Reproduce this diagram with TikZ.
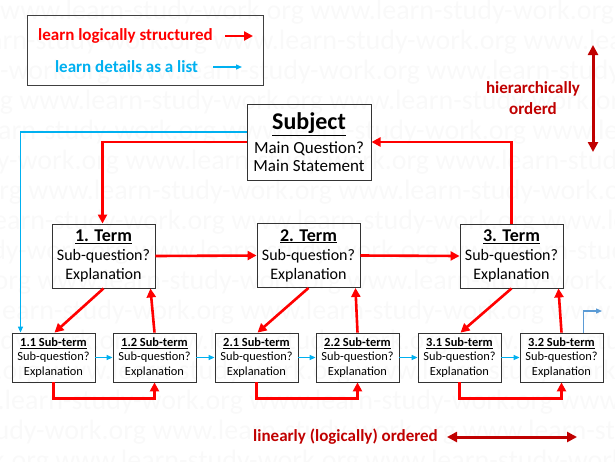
\documentclass[tikz,border=0pt]{standalone}
\usepackage{fontspec}
\setmainfont{Carlito}
\usetikzlibrary{arrows.meta,positioning,calc}
\usepackage{xcolor}
\definecolor{lsred}{RGB}{255,0,0}
\definecolor{lsblue}{RGB}{0,176,240}
\definecolor{lsdark}{RGB}{192,0,0}
\definecolor{lssteel}{RGB}{91,155,213}
\definecolor{lsmark}{RGB}{249,249,249}

\tikzset{
  termbox/.style={draw=black!80, line width=0.9pt, minimum width=103pt, minimum height=64pt,
    inner sep=0pt, align=center, font=\fontsize{16}{19}\selectfont},
  subbox/.style={draw=black!80, line width=0.8pt, minimum width=83pt, minimum height=49pt,
    inner sep=0pt, align=center, font=\fontsize{12.4}{14.5}\selectfont},
  redline/.style={draw=lsred, line width=2.6pt, -{Triangle[length=9pt,width=9pt]}},
  blueline/.style={draw=lsblue, line width=1.3pt, -{Triangle[length=6pt,width=5pt]}},
  darkline/.style={draw=lsdark, line width=3pt, {Triangle[length=10pt,width=10pt]}-{Triangle[length=10pt,width=10pt]}},
  darktext/.style={text=lsdark, font=\bfseries\fontsize{17}{21}\selectfont, align=center},
}

\begin{document}
\begin{tikzpicture}[x=1pt,y=-1pt]
\useasboundingbox (0,0) rectangle (615,461);
% watermark
\begin{scope}
  \clip (0,0) rectangle (615,461);
  \foreach \k in {0,...,15} {
    \pgfmathsetmacro{\off}{-mod(\k*97,300)}
    \node[anchor=west, inner sep=0pt, text=lsmark, font=\fontsize{28}{28}\selectfont] (mark\k) at (\off, 12+\k*30)
      {www.learn-study-work.org www.learn-study-work.org www.learn-study-work.org};
  }
\end{scope}

% legend
\node[draw=black!75, line width=1pt, minimum width=236pt, minimum height=70pt] (legend) at (145,50) {};
\node[text=lsred, font=\bfseries\fontsize{17}{17}\selectfont] (lgred) at (125.5,36) {learn logically structured};
\node[text=lsblue, font=\bfseries\fontsize{17}{17}\selectfont] (lgblue) at (126.5,67) {learn details as a list};
\coordinate (lgredend) at (253,36);
\coordinate (lgblueend) at (242,67);
\draw[redline, line width=2.4pt] (225,36) -- (lgredend);
\draw[blueline] (213,67) -- (lgblueend);

% subject and terms
\node[draw=black!80, line width=1pt, minimum width=124pt, minimum height=76pt, inner sep=0pt,
  align=center, font=\fontsize{17}{18}\selectfont] (subject) at (309,142)
  {{\fontsize{24}{24}\selectfont\textbf{\underline{Subject}}}\\[6pt]Main Question?\\Main Statement};

\node[termbox] (term1) at (103.5,256) {{\fontsize{18}{18}\selectfont\textbf{\underline{1. Term}}}\\Sub-question?\\Explanation};
\node[termbox] (term2) at (308.5,255.5) {{\fontsize{18}{18}\selectfont\textbf{\underline{2. Term}}}\\Sub-question?\\Explanation};
\node[termbox] (term3) at (511.5,256) {{\fontsize{18}{18}\selectfont\textbf{\underline{3. Term}}}\\Sub-question?\\Explanation};

% sub-terms
\foreach \i/\j/\x in {1/1/53.5, 1/2/154.5, 2/1/256.5, 2/2/357.5, 3/1/459.5, 3/2/561.5} {
  \node[subbox] (sub\i\j) at (\x,357.5) {\textbf{\underline{\i.\j\ Sub-term}}\\Sub-question?\\Explanation};
}

% hierarchy arrows
\draw[blueline] ([yshift=10pt]subject.west) -| ([xshift=-33pt]sub11.north);
\draw[redline] (subject.west) -| ([xshift=-1pt]term1.north);
\draw[redline] (term1.east) -- (term2.west);
\draw[redline] (term2.east) -- (term3.west);
\draw[redline] (term3.north) |- (subject.east);

\foreach \t in {1,2,3} {
  \draw[redline] (term\t.south) -- ([xshift=1pt]sub\t1.north);
  \draw[redline] (sub\t2.north) -- ([xshift=-5pt]term\t.south east);
  \draw[redline] (sub\t1.south) -- ++(0,16) -| (sub\t2.south);
}

% list arrows
\draw[blueline] (sub11.east) -- (sub12.west);
\draw[blueline] (sub12.east) -- (sub21.west);
\draw[blueline] (sub21.east) -- (sub22.west);
\draw[blueline] (sub22.east) -- (sub31.west);
\draw[blueline] (sub31.east) -- (sub32.west);
\coordinate (next) at (602,311);
\draw[blueline, draw=lssteel] ([xshift=22pt]sub32.north) |- (next);

% order labels
\node[darktext] (hier) at (533,98) {hierarchically\\orderd};
\coordinate (hiertop) at (593,45);
\coordinate (hierbot) at (593,152);
\draw[darkline] (hiertop) -- (hierbot);

\node[darktext] (linear) at (345.5,437) {linearly (logically) ordered};
\coordinate (linleft) at (447,437);
\coordinate (linright) at (577,437);
\draw[darkline] (linleft) -- (linright);
\end{tikzpicture}
\end{document}
